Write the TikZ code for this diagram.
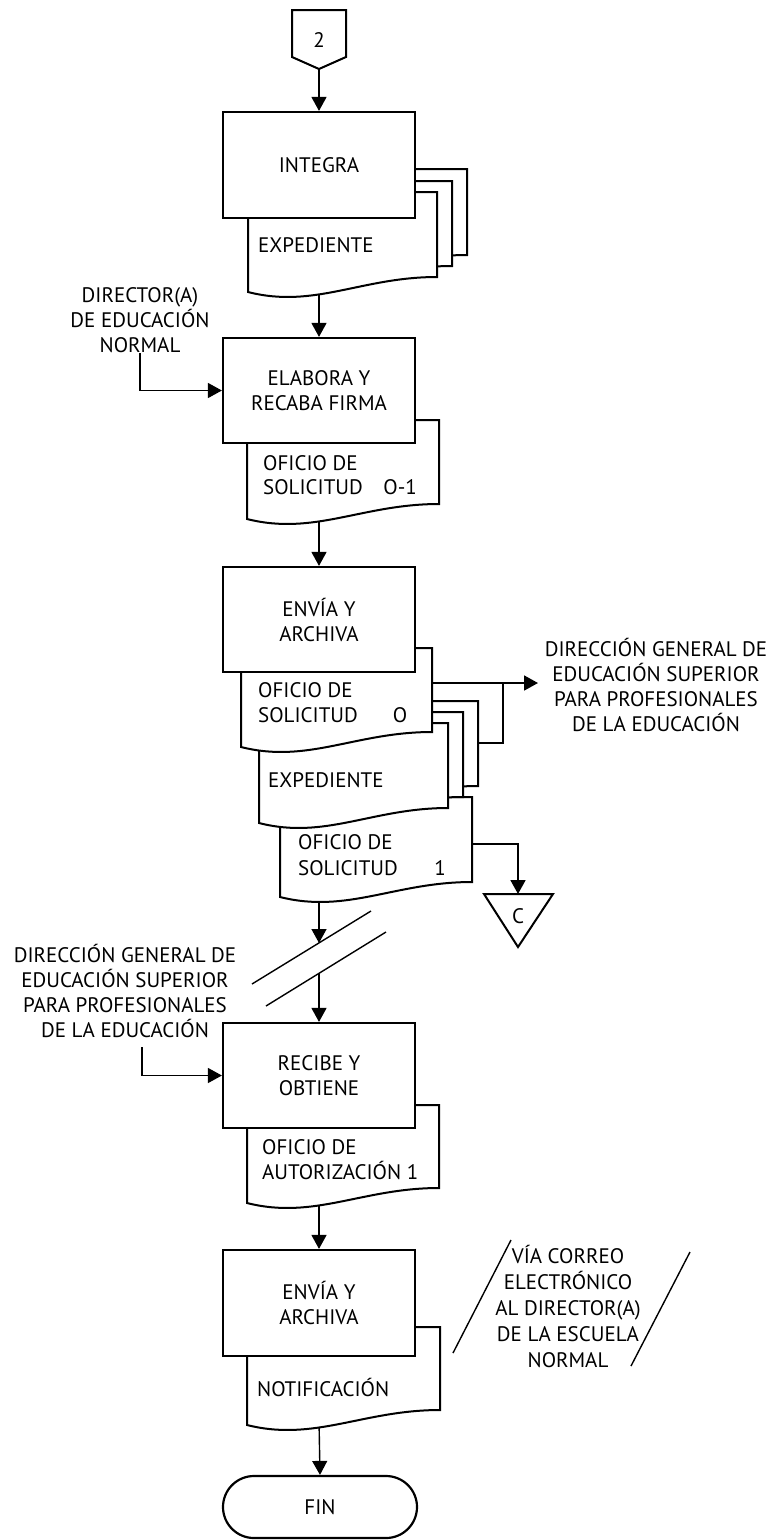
\documentclass[tikz,border=0pt]{standalone}
\usepackage{fontspec}
\setmainfont{PT Sans}
\usetikzlibrary{arrows.meta}
\pgfdeclarelayer{bg}
\pgfsetlayers{bg,main}
\newcommand\mainfs{\fontsize{21}{25}\selectfont}
% document sheet: x0, x1, ytop, ybottom-left
\newcommand{\mydocshape}[4]{%
  \path[docline] (#1,#3) -- (#2,#3) -- (#2,#4-15)
    .. controls ({#1+0.6*(#2-#1)},#4-15) and ({#1+0.35*(#2-#1)},#4+17) .. (#1,#4) -- cycle;}
\tikzset{
  every node/.style={font=\mainfs},
  procbox/.style={draw, line width=2.2pt, fill=white, minimum width=192pt, minimum height=106pt, align=center, inner sep=0pt},
  docline/.style={draw, line width=2pt, fill=white},
  conn/.style={line width=1.4pt, -{Triangle[length=14pt,width=15pt]}},
  stackline/.style={line width=1.8pt},
  plainline/.style={line width=1.4pt},
  shapeline/.style={line width=2pt},
  lbl/.style={align=center, inner sep=0pt},
  doctxt/.style={anchor=west, inner sep=0pt},
}
\begin{document}
\begin{tikzpicture}[x=1pt,y=-1pt]
\useasboundingbox (0,0) rectangle (773,1540);

% ---- connector 2
\draw[shapeline] (292,10) -- (346,10) -- (346,57) -- (319,69) -- (292,57) -- cycle;
\node[inner sep=0pt] (c2) at (319,40) {2};
\coordinate (c2b) at (319,69);

% ---- INTEGRA with expediente (3 sheets)
\mydocshape{278}{467}{169}{270}
\mydocshape{263}{452}{181}{281}
\mydocshape{248}{437}{192}{292}
\node[procbox] (integra) at (319,165) {INTEGRA};
\node[doctxt] (texp1) at (258,245) {EXPEDIENTE};
\coordinate (integraout) at (319,287);

% ---- ELABORA
\mydocshape{247}{439}{420}{519}
\node[procbox, minimum height=105pt] (elabora) at (319,390.5) {ELABORA Y\\RECABA FIRMA};
\node[doctxt] (tof1) at (263,463) {OFICIO DE};
\node[doctxt] (tsol1) at (263,487) {SOLICITUD};
\node[anchor=east, inner sep=0pt] (to1) at (417,487) {O-1};
\coordinate (elaboraout) at (319,514);
\node[lbl] (dir) at (140,320) {DIRECTOR(A)\\DE EDUCACIÓN\\NORMAL};

% ---- ENVIA Y ARCHIVA (1)
\mydocshape{280}{472}{797}{897}
\mydocshape{289}{478}{701}{801}
\mydocshape{274}{463}{712}{812}
\mydocshape{259}{448}{723}{823}
\mydocshape{241}{432}{648}{747}
\node[procbox, minimum height=105pt] (envia) at (319,619.5) {ENVÍA Y\\ARCHIVA};
\node[doctxt] (tof2) at (258,690) {OFICIO DE};
\node[doctxt] (tsol2) at (258,715) {SOLICITUD};
\node[inner sep=0pt] (to2) at (400,715) {O};
\node[doctxt] (texp2) at (268,780) {EXPEDIENTE};
\node[doctxt] (tof3) at (298,842) {OFICIO DE};
\node[doctxt] (tsol3) at (298,868) {SOLICITUD};
\node[inner sep=0pt] (to3) at (440,868) {1};
\coordinate (d1out) at (432,683);
\coordinate (jn) at (503,683);
\coordinate (stk) at (478,743);
\coordinate (d3out) at (472,844);
\coordinate (d3b) at (319,892);
\node[lbl] (dgesR) at (656,685) {DIRECCIÓN GENERAL DE\\EDUCACIÓN SUPERIOR\\PARA PROFESIONALES\\DE LA EDUCACIÓN};
\coordinate (dgesin) at (538,683);

% ---- off-page connector C
\draw[shapeline] (484,894) -- (553,894) -- (518,947) -- cycle;
\node[inner sep=0pt] (cc) at (518,916) {C};
\coordinate (ctop) at (518,894);

% ---- mail break lines
\draw[plainline] (252,984) -- (371,911);
\draw[plainline] (266,1006) -- (386,932);
\coordinate (s1) at (319,943);
\coordinate (s2) at (319,973);

% ---- RECIBE
\mydocshape{247}{439}{1105}{1203}
\node[procbox, minimum height=105pt] (recibe) at (319,1075.5) {RECIBE Y\\OBTIENE};
\node[doctxt] (tof4) at (262,1147) {OFICIO DE};
\node[doctxt] (taut) at (262,1170) {AUTORIZACIÓN 1};
\coordinate (recibeout) at (319,1198);
\node[lbl] (dgesL) at (125,990.5) {DIRECCIÓN GENERAL DE\\EDUCACIÓN SUPERIOR\\PARA PROFESIONALES\\DE LA EDUCACIÓN};
\coordinate (dgl) at (142,1047);

% ---- ENVIA Y ARCHIVA (2)
\mydocshape{247}{440}{1327}{1425}
\node[procbox] (envia2) at (319,1303) {ENVÍA Y\\ARCHIVA};
\node[doctxt] (tnot) at (257,1387) {NOTIFICACIÓN};
\coordinate (envia2out) at (319,1420);
\node[lbl, font=\fontsize{21}{25.8}\selectfont] (via) at (568,1306.5) {VÍA CORREO\\ELECTRÓNICO\\AL DIRECTOR(A)\\DE LA ESCUELA\\NORMAL};
\draw[plainline] (453,1353) -- (511,1240);
\draw[plainline] (631,1366) -- (690,1252);

% ---- FIN
\node[draw, line width=2.2pt, rounded corners=31pt, minimum width=194pt, minimum height=62pt, inner sep=0pt] (fin) at (320,1507) {FIN};

% ---- connectors
\begin{pgfonlayer}{bg}
\draw[conn] (c2b) -- (integra.north);
\draw[conn] (integraout) -- (elabora.north);
\draw[conn] (dir.south) |- (elabora.west);
\draw[conn] (elaboraout) -- (envia.north);
\draw[stackline, -{Triangle[length=14pt,width=15pt]}] (d1out) -- (dgesin);
\draw[stackline] (stk) -| (jn);
\draw[stackline, -{Triangle[length=14pt,width=15pt]}] (d3out) -| (ctop);
\draw[conn] (d3b) -- (s1);
\draw[conn] (s2) -- (recibe.north);
\draw[conn] (dgl) |- (recibe.west);
\draw[conn] (recibeout) -- (envia2.north);
\draw[conn] (envia2out) -- (fin.north);
\end{pgfonlayer}
\end{tikzpicture}
\end{document}
